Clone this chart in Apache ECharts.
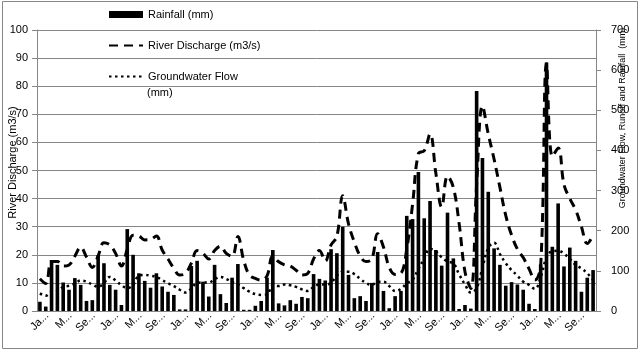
<!DOCTYPE html>
<html>
<head>
<meta charset="utf-8">
<script src="https://cdn.jsdelivr.net/npm/echarts@6/dist/echarts.min.js"></script>
<style>
  html, body { margin: 0; padding: 0; background: #fff; }
  #chart { width: 640px; height: 354px; }
</style>
</head>
<body>
<div id="chart"></div>
<script>
const monthNames = ["Jan", "Feb", "Mar", "Apr", "May", "Jun", "Jul", "Aug", "Sep", "Oct", "Nov", "Dec"];
const yearNames = ["01", "02", "03", "04", "05", "06", "07", "08"];
const tickLabels = ["Ja...", "M...", "Se..."];

// monthly rainfall (mm), right axis
const rainfall = [
  23, 11, 127, 115, 71, 53, 82, 65, 25, 27, 139, 119,
  65, 53, 15, 204, 140, 94, 75, 58, 94, 61, 48, 40,
  4, 4, 112, 125, 73, 36, 115, 42, 20, 83, 117, 3,
  3, 13, 25, 83, 152, 19, 14, 27, 18, 35, 32, 92,
  80, 76, 154, 144, 210, 90, 32, 37, 25, 70, 147, 50,
  7, 37, 50, 237, 229, 346, 231, 274, 152, 113, 245, 131,
  5, 15, 6, 548, 381, 297, 156, 115, 63, 72, 66, 53,
  18, 5, 116, 619, 160, 268, 111, 158, 125, 48, 83, 102
];

// river discharge (m3/s), left axis
const discharge = [
  11.5, 9.8, 17.6, 17.6, 16, 16.4, 19.5, 22.7, 19.2, 15.5, 19.6, 24.3,
  23.5, 20.5, 16, 22, 27, 26.7, 25.3, 25.5, 26.7, 21.7, 18.5, 15.2,
  12.8, 13.4, 17, 21.5, 20.5, 18.5, 21.5, 23, 20.5, 19.5, 26.5, 18,
  12.7, 11.6, 11, 12.5, 19.5, 17.5, 16.4, 16, 14.5, 12.8, 13.4, 18.5,
  21.5, 17.8, 23.5, 26.5, 41, 31, 24.5, 19.6, 17.6, 18.5, 27.5, 22.8,
  15.5, 13, 13.4, 22, 38, 56, 57, 63, 49, 37, 48, 44,
  31, 14, 8, 45, 73, 63, 54, 44, 34, 27, 22, 19,
  15, 11, 16, 88, 55, 58, 45, 40, 36, 30, 24, 27
];

// groundwater flow (mm), right axis
const groundwater = [
  44, 38, 48, 50, 60, 63, 68, 76, 73, 66, 60, 70,
  85, 76, 64, 57, 65, 88, 90, 88, 85, 77, 69, 62,
  53, 46, 56, 70, 71, 71, 79, 85, 80, 72, 66, 57,
  48, 42, 40, 41, 64, 62, 66, 64, 60, 54, 50, 60,
  66, 66, 70, 88, 98, 98, 92, 80, 70, 65, 73, 73,
  62, 50, 55, 69, 78, 105, 131, 155, 148, 134, 123, 119,
  91, 66, 46, 57, 108, 157, 170, 142, 119, 102, 88, 73,
  65, 55, 84, 133, 149, 150, 143, 130, 115, 106, 94, 77
];

const categories = [];
yearNames.forEach((y) => monthNames.forEach((m) => categories.push(m + "-" + y)));

const font = "Liberation Sans";
const axisGray = "#868686";
const gwName = "Groundwater Flow (mm)";

const chart = echarts.init(document.getElementById("chart"));

chart.setOption({
  animation: false,
  textStyle: { fontFamily: font },
  grid: { left: 37, right: 44, top: 30, bottom: 43, outerBoundsMode: "none" },
  legend: {
    orient: "vertical",
    left: 108,
    top: 9,
    padding: 0,
    itemWidth: 34,
    itemHeight: 7,
    itemGap: 20,
    textStyle: { fontFamily: font, fontSize: 11, color: "#000" },
    formatter: (name) => (name === gwName ? "Groundwater Flow" : name),
    data: [
      { name: "Rainfall (mm)", icon: "rect" },
      { name: "River Discharge (m3/s)", itemStyle: { opacity: 0 } },
      { name: gwName, itemStyle: { opacity: 0 } },
    ],
  },
  graphic: [
    {
      type: "rect",
      shape: { x: 2.5, y: 1.5, width: 635, height: 347 },
      style: { fill: "none", stroke: axisGray, lineWidth: 1 },
      silent: true,
    },
    {
      type: "text",
      x: 147,
      y: 93,
      style: { text: "(mm)", font: "11px " + font, fill: "#000", verticalAlign: "middle" },
    },
    {
      type: "text",
      x: 623,
      y: 118,
      rotation: Math.PI / 2,
      style: {
        text: "Groundwater Flow, Runoff and Rainfall  (mm)",
        font: "9px " + font,
        fill: "#000",
        align: "center",
        verticalAlign: "middle",
      },
    },
  ],
  xAxis: {
    type: "category",
    data: categories,
    boundaryGap: true,
    axisLine: { lineStyle: { color: axisGray } },
    axisTick: { interval: 3, length: 5, lineStyle: { color: axisGray } },
    axisLabel: {
      interval: 3,
      rotate: 45,
      margin: 10,
      fontSize: 11,
      color: "#000",
      padding: [28, -10, 0, 0],
      formatter: (value, index) => tickLabels[Math.floor(index / 4) % 3],
    },
    splitLine: { show: false },
  },
  yAxis: [
    {
      type: "value",
      min: 0,
      max: 100,
      interval: 10,
      name: "River Discharge (m3/s)",
      nameLocation: "middle",
      nameGap: 19,
      nameMoveOverlap: false,
      nameTextStyle: { fontSize: 11, color: "#000", padding: [0, 0, 0, 16] },
      axisLine: { show: true, lineStyle: { color: axisGray } },
      axisTick: { show: true, length: 5, lineStyle: { color: axisGray } },
      axisLabel: { fontSize: 11, color: "#000", margin: 9 },
      splitLine: { lineStyle: { color: axisGray, width: 1 } },
    },
    {
      type: "value",
      min: 0,
      max: 700,
      interval: 100,
      position: "right",
      axisLine: { show: true, lineStyle: { color: axisGray } },
      axisTick: { show: true, length: 5, lineStyle: { color: axisGray } },
      axisLabel: { fontSize: 11, color: "#000", margin: 15, align: "left" },
      splitLine: { show: false },
    },
  ],
  series: [
    {
      name: "Rainfall (mm)",
      type: "bar",
      yAxisIndex: 1,
      data: rainfall,
      barWidth: "62%",
      itemStyle: { color: "#000" },
    },
    {
      name: "River Discharge (m3/s)",
      type: "line",
      yAxisIndex: 0,
      data: discharge,
      smooth: 0.4,
      symbol: "none",
      lineStyle: { color: "#000", width: 3, type: [9, 6] },
      itemStyle: { color: "#000" },
    },
    {
      name: gwName,
      type: "line",
      yAxisIndex: 1,
      data: groundwater,
      smooth: 0.4,
      symbol: "none",
      lineStyle: { color: "#000", width: 2.5, type: [2.5, 3.5] },
      itemStyle: { color: "#000" },
    },
  ],
});
</script>
</body>
</html>
